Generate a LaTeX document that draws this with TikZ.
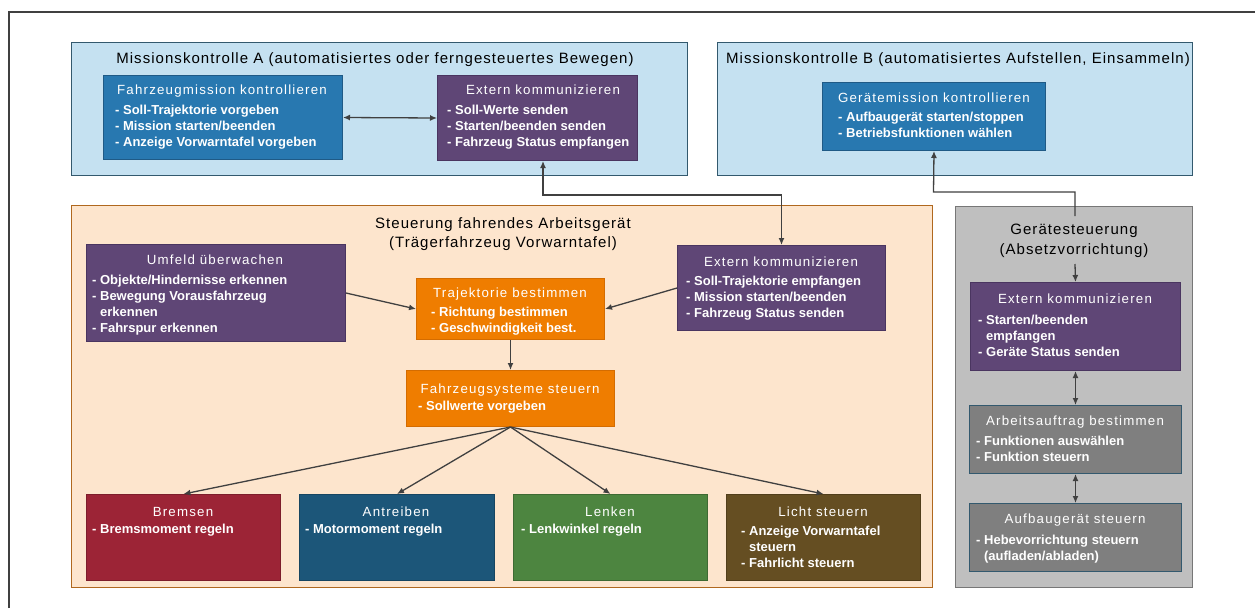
\documentclass[tikz,border=0pt]{standalone}
\usepackage{fontspec}
\setmainfont{Liberation Sans}
\newfontfamily\ttlfont{Liberation Sans}[LetterSpace=7]
\newfontfamily\hdfont{Liberation Sans}[LetterSpace=9]
\usetikzlibrary{arrows.meta,calc}

\definecolor{lblue}{HTML}{C5E1F1}
\definecolor{slate}{HTML}{33596E}
\definecolor{cblue}{HTML}{2878B0}
\definecolor{cblueE}{HTML}{1F5A86}
\definecolor{cpurple}{HTML}{5F4676}
\definecolor{cpurpleE}{HTML}{4A3560}
\definecolor{lorange}{HTML}{FDE5CD}
\definecolor{orangeE}{HTML}{B0681E}
\definecolor{corange}{HTML}{EF7D00}
\definecolor{corangeE}{HTML}{D46C00}
\definecolor{cred}{HTML}{9C2436}
\definecolor{cnavy}{HTML}{1C5679}
\definecolor{cgreen}{HTML}{4D8540}
\definecolor{cbrown}{HTML}{654E22}
\definecolor{lgrey}{HTML}{BFBFBF}
\definecolor{greyE}{HTML}{777777}
\definecolor{cgrey}{HTML}{7F7F7F}
\definecolor{wire}{HTML}{404040}

\tikzset{
  container/.style={draw, line width=1.4pt, inner sep=0pt},
  blk/.style={draw, line width=1pt, inner sep=0pt},
  ttl/.style={font=\ttlfont\fontsize{15}{19.5}\selectfont, text=black, align=center, inner sep=0pt},
  hd/.style={font=\hdfont\fontsize{13.3}{16}\selectfont, text=white, inner sep=0pt, anchor=base},
  it/.style={font=\bfseries\fontsize{13}{16}\selectfont, text=white, align=left, inner sep=0pt, anchor=north west},
  arr/.style={draw=wire, line width=1.3pt, -{Latex[length=7pt,width=6pt]}},
  both/.style={draw=wire, line width=1.3pt, {Latex[length=7pt,width=6pt]}-{Latex[length=7pt,width=6pt]}},
  frame/.style={draw=wire, line width=1.2pt}
}

% rectangle from its corners: name, style, x1, y1, x2, y2
\newcommand\rbox[6]{%
  \node[#2, minimum width=\dimexpr#5pt-#3pt\relax, minimum height=\dimexpr#6pt-#4pt\relax,
        anchor=north west] (#1) at (#3,#4) {};}
\newcommand\ind{\phantom{- }}

\begin{document}
\begin{tikzpicture}[x=1pt,y=-1pt]
\useasboundingbox (0,0) rectangle (1255,608);
\fill[white] (0,0) rectangle (1255,608);

% outer frame
\draw[frame] (9,608) -- (9,12) -- (1255,12);

% ---------- mission control A ----------
\rbox{mkA}{container, draw=slate, fill=lblue}{71}{42}{687}{175}
\node[ttl, anchor=base] (mkA-t) at (375,63) {Missionskontrolle A (automatisiertes oder ferngesteuertes Bewegen)};

\rbox{fm}{blk, draw=cblueE, fill=cblue}{103}{75}{342}{159}
\node[hd] (fm-h) at (222,94) {Fahrzeugmission kontrollieren};
\node[it] (fm-i) at (115,105.3) {- Soll-Trajektorie vorgeben\\- Mission starten/beenden\\- Anzeige Vorwarntafel vorgeben};

\rbox{exA}{blk, draw=cpurpleE, fill=cpurple}{437}{75}{637}{160}
\node[hd] (exA-h) at (543,94) {Extern kommunizieren};
\node[it] (exA-i) at (447,105.3) {- Soll-Werte senden\\- Starten/beenden senden\\- Fahrzeug Status empfangen};

% ---------- mission control B ----------
\rbox{mkB}{container, draw=slate, fill=lblue}{717}{42}{1192}{175}
\node[ttl, anchor=base] (mkB-t) at (958,63) {Missionskontrolle B (automatisiertes Aufstellen, Einsammeln)};

\rbox{gm}{blk, draw=cblueE, fill=cblue}{822}{82}{1045}{150}
\node[hd] (gm-h) at (934,102) {Gerätemission kontrollieren};
\node[it] (gm-i) at (838,111.6) {- Aufbaugerät starten/stoppen\\- Betriebsfunktionen wählen};

% ---------- vehicle control ----------
\rbox{sfa}{container, draw=orangeE, fill=lorange}{71}{205}{932}{587}
\node[ttl, anchor=north] (sfa-t) at (503,217) {Steuerung fahrendes Arbeitsgerät\\(Trägerfahrzeug Vorwarntafel)};

\rbox{umf}{blk, draw=cpurpleE, fill=cpurple}{86}{244}{345}{341}
\node[hd] (umf-h) at (215,264) {Umfeld überwachen};
\node[it] (umf-i) at (92,274.6) {- Objekte/Hindernisse erkennen\\- Bewegung Vorausfahrzeug\\\ind erkennen\\- Fahrspur erkennen};

\rbox{exM}{blk, draw=cpurpleE, fill=cpurple}{677}{245}{885}{330}
\node[hd] (exM-h) at (781,266) {Extern kommunizieren};
\node[it] (exM-i) at (686,276) {- Soll-Trajektorie empfangen\\- Mission starten/beenden\\- Fahrzeug Status senden};

\rbox{traj}{blk, draw=corangeE, fill=corange}{416}{278}{604}{339}
\node[hd] (traj-h) at (510,297) {Trajektorie bestimmen};
\node[it] (traj-i) at (431,306.6) {- Richtung bestimmen\\- Geschwindigkeit best.};

\rbox{fs}{blk, draw=corangeE, fill=corange}{406}{370}{614}{426}
\node[hd] (fs-h) at (510,393) {Fahrzeugsysteme steuern};
\node[it] (fs-i) at (418,400.6) {- Sollwerte vorgeben};

\rbox{br}{blk, draw=cred!80!black, fill=cred}{86}{494}{280}{580}
\node[hd] (br-h) at (183,516) {Bremsen};
\node[it] (br-i) at (92,524) {- Bremsmoment regeln};

\rbox{an}{blk, draw=cnavy!80!black, fill=cnavy}{299}{494}{494}{580}
\node[hd] (an-h) at (396,516) {Antreiben};
\node[it] (an-i) at (305,524) {- Motormoment regeln};

\rbox{le}{blk, draw=cgreen!80!black, fill=cgreen}{513}{494}{707}{580}
\node[hd] (le-h) at (610,516) {Lenken};
\node[it] (le-i) at (521,524) {- Lenkwinkel regeln};

\rbox{li}{blk, draw=cbrown!80!black, fill=cbrown}{726}{494}{920}{580}
\node[hd] (li-h) at (823,516) {Licht steuern};
\node[it] (li-i) at (741,525.6) {- Anzeige Vorwarntafel\\\ind steuern\\- Fahrlicht steuern};

% ---------- device control ----------
\rbox{gs}{container, draw=greyE, fill=lgrey}{955}{206}{1192}{587}
\node[ttl, anchor=north] (gs-t) at (1074,224) {Gerätesteuerung\\(Absetzvorrichtung)};

\rbox{exG}{blk, draw=cpurpleE, fill=cpurple}{970}{282}{1180}{370}
\node[hd] (exG-h) at (1075,303) {Extern kommunizieren};
\node[it] (exG-i) at (978,314.6) {- Starten/beenden\\\ind empfangen\\- Geräte Status senden};

\rbox{aa}{blk, draw=slate, fill=cgrey}{969}{405}{1181}{473}
\node[hd] (aa-h) at (1075,425) {Arbeitsauftrag bestimmen};
\node[it] (aa-i) at (976,435.6) {- Funktionen auswählen\\- Funktion steuern};

\rbox{ag}{blk, draw=slate, fill=cgrey}{969}{503}{1181}{571}
\node[hd] (ag-h) at (1075,523) {Aufbaugerät steuern};
\node[it] (ag-i) at (976,534.6) {- Hebevorrichtung steuern\\\ind (aufladen/abladen)};

% ---------- connectors ----------
\draw[both] (fm.east) -- (exA.west);

\coordinate (j1) at (543,195);
\draw[both] (exA.south -| j1) -- (j1) -| (exM.north);

\coordinate (j3) at (1075,216);
\coordinate (j4) at (933.5,192);
\draw[arr] (j3) |- (j4) -- (gm.south);

\coordinate (j5) at (1075,264);
\draw[arr] (j5) -- (exG.north);
\draw[both] (exG.south) -- (aa.north);
\draw[both] (aa.south) -- (ag.north);

\draw[arr] (umf.east) -- (traj.west);
\draw[arr] (exM.west) -- (traj.east);
\draw[arr] (traj.south) -- (fs.north);
\foreach \t in {br,an,le,li}
  \draw[arr] (fs.south) -- (\t.north);
\end{tikzpicture}
\end{document}
